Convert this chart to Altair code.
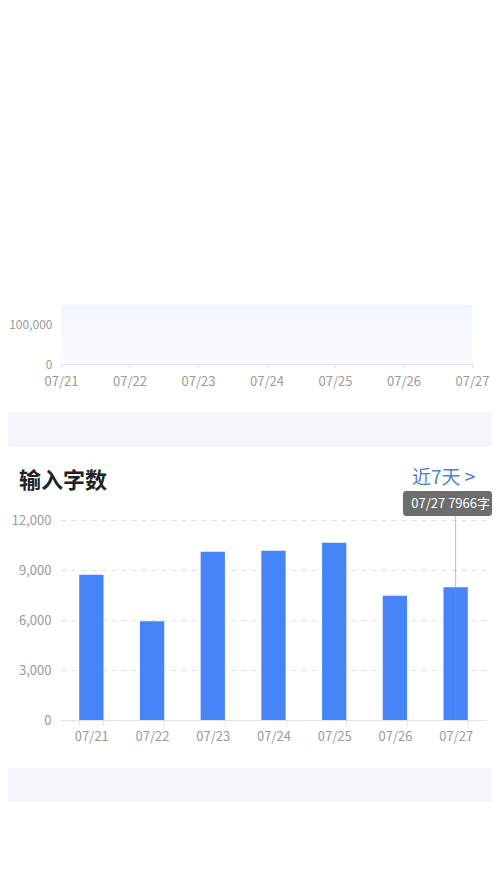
import altair as alt
import pandas as pd

# ---- data ----
dates = ["07/21", "07/22", "07/23", "07/24", "07/25", "07/26", "07/27"]
top_values = [147500, 147500, 147500, 147500, 147500, 147500, 147500]
bar_values = [8720, 5920, 10100, 10160, 10640, 7460, 7966]
top_y_ticks = [0, 100000]
bar_y_ticks = [0, 3000, 6000, 9000, 12000]
highlight_date = "07/27"
card_title = "输入字数"
range_link = "近7天 >"
unit = "字"

FONT = "Noto Sans CJK SC"
BAND_GRAY = "#f5f6f9"

top_df = pd.DataFrame({"date": dates, "value": top_values})
bar_df = pd.DataFrame({"date": dates, "value": bar_values})
tip_df = bar_df[bar_df["date"] == highlight_date].copy()
tip_df["label"] = tip_df["date"] + " " + tip_df["value"].astype(str) + unit
one = pd.DataFrame({"t": [""]})

# ---- top (partial) area chart ----
top_x = alt.X("date:O", sort=None, scale=alt.Scale(type="point", padding=0),
              axis=alt.Axis(title=None, labelAngle=0, tickSize=4, labelPadding=7,
                            labelFontSize=13,
                            domainColor="#e3e3e3", tickColor="#e3e3e3"))
top_y = alt.Y("value:Q", scale=alt.Scale(domain=[0, 147500], nice=False),
              axis=alt.Axis(title=None, values=top_y_ticks, format=",d", domain=False,
                            ticks=False, labelPadding=9, grid=True, labelFontSize=12))

top_area = alt.Chart(top_df).mark_area(
    color=alt.Gradient(gradient="linear",
                       stops=[alt.GradientStop(color="#fbfcfe", offset=0),
                              alt.GradientStop(color="#f1f5fd", offset=1)],
                       x1=1, x2=1, y1=1, y2=0)
).encode(x=top_x, y=top_y)

band1 = alt.Chart(one).mark_rect(color=BAND_GRAY).encode(
    x=alt.value(-53), x2=alt.value(431), y=alt.value(107), y2=alt.value(142))

top_chart = alt.layer(band1, top_area).properties(width=411, height=59)

# ---- bar card ----
bx = alt.X("date:N", sort=None,
           scale=alt.Scale(paddingInner=0.6, paddingOuter=0.3),
           axis=alt.Axis(title=None, labelAngle=0, tickBand="extent", tickSize=5,
                         labelPadding=5, labelFontSize=13,
                         domainColor="#e3e3e3", tickColor="#e3e3e3"))
by = alt.Y("value:Q", scale=alt.Scale(domain=[0, 12000], nice=False),
           axis=alt.Axis(title=None, values=bar_y_ticks, format=",d", domain=False,
                         ticks=False, labelPadding=10, grid=True, labelFontSize=13))

bars = alt.Chart(bar_df).mark_bar(color="#4685f7").encode(x=bx, y=by)

rule = alt.Chart(tip_df).mark_rule(color="#8f8f8f", strokeWidth=1, opacity=0.6).encode(
    x=alt.X("date:N", sort=None), y=alt.value(-4), y2=alt.value(200))

tip_box = alt.Chart(one).mark_rect(color="#6d6d6d", cornerRadius=3).encode(
    x=alt.value(342), x2=alt.value(431), y=alt.value(-29), y2=alt.value(-4))

tip_text = alt.Chart(tip_df).mark_text(color="#ffffff", font=FONT, fontSize=13,
                                       align="center", baseline="middle", dx=-5).encode(
    x=alt.X("date:N", sort=None), y=alt.value(-16), text="label:N")

title_text = alt.Chart(pd.DataFrame({"t": [card_title]})).mark_text(
    font=FONT, fontSize=22, fontWeight="bold", color="#222222",
    align="left", baseline="middle").encode(
    x=alt.value(-42), y=alt.value(-39), text="t:N")

link_text = alt.Chart(pd.DataFrame({"t": [range_link]})).mark_text(
    font=FONT, fontSize=19, color="#4a80d8",
    align="left", baseline="middle").encode(
    x=alt.value(351), y=alt.value(-42), text="t:N")

band2 = alt.Chart(one).mark_rect(color=BAND_GRAY).encode(
    x=alt.value(-53), x2=alt.value(431), y=alt.value(248), y2=alt.value(282))

bar_chart = alt.layer(band2, bars, rule, tip_box, tip_text, title_text, link_text).properties(
    width=425, height=200)

chart = alt.vconcat(top_chart, bar_chart, spacing=156, bounds="flush").properties(
    padding={"top": 297, "left": 0, "right": 0, "bottom": 0},
    background="#ffffff",
).configure_view(stroke=None).configure_axis(
    labelFont=FONT, labelColor="#9a9a9a",
    gridColor="#e0e0e0", gridDash=[5, 5], gridWidth=1
)

chart.save("out.html", embed_options={"renderer": "svg", "actions": False})
